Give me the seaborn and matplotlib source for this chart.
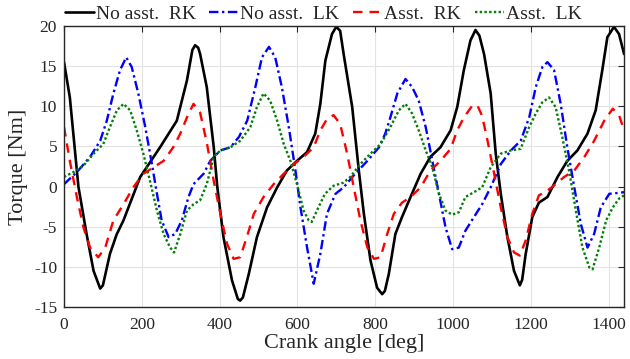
import numpy as np
import pandas as pd
import matplotlib
matplotlib.use('Agg')
import matplotlib.pyplot as plt
import seaborn as sns

# 크랭크 각도별 토크 데이터
rk_no_x = [0, 15, 37, 58, 76, 93, 100, 118, 135, 153, 196, 247, 290, 316, 330, 337, 345, 350, 367,
           385, 394, 410, 432, 447, 453, 460, 475, 496, 522, 548, 573, 599, 625, 646, 659, 672,
           689, 700, 710, 719, 741, 758, 771, 788, 805, 818, 825, 835, 852, 869, 891, 917, 942,
           968, 994, 1011, 1028, 1045, 1058, 1068, 1080, 1097, 1110, 1123, 1140, 1157, 1172,
           1178, 1187, 1204, 1221, 1243, 1269, 1294, 1320, 1346, 1367, 1384, 1397, 1414, 1427,
           1440]
rk_no_y = [15.5, 11.1, 0.0, -5.9, -10.5, -12.7, -12.3, -8.4, -6.0, -4.2, 1.2, 4.9, 8.2, 13.2,
           17.0, 17.6, 17.3, 16.5, 12.4, 4.9, 0.0, -6.3, -11.7, -14.0, -14.2, -13.8, -10.9, -6.3,
           -2.6, -0.1, 2.0, 3.2, 4.3, 6.6, 10.3, 15.7, 19.0, 19.9, 19.4, 16.5, 9.9, 2.0, -3.4,
           -9.2, -12.6, -13.4, -13.0, -10.9, -5.9, -3.8, -1.3, 1.6, 3.7, 4.9, 7.0, 9.9, 14.5,
           18.2, 19.5, 18.8, 16.5, 11.6, 4.1, -0.9, -6.3, -10.5, -12.3, -11.6, -8.4, -3.8, -2.0,
           -1.3, 1.2, 3.2, 4.5, 6.6, 9.5, 14.5, 18.6, 19.9, 19.0, 16.5]

lk_no_x = [0, 33, 67, 93, 110, 127, 144, 160, 174, 191, 209, 226, 239, 251, 269, 286, 303, 320,
           333, 359, 376, 402, 428, 450, 471, 492, 509, 527, 543, 560, 578, 595, 608, 625, 642,
           659, 676, 698, 719, 745, 780, 810, 826, 839, 857, 878, 895, 912, 930, 947, 964, 981,
           998, 1015, 1032, 1054, 1075, 1097, 1123, 1149, 1174, 1196, 1213, 1230, 1243, 1260,
           1277, 1294, 1312, 1329, 1346, 1363, 1380, 1402, 1423, 1440]
lk_no_y = [0.3, 1.8, 3.7, 5.7, 8.2, 11.6, 14.5, 16.1, 14.9, 11.6, 7.4, 2.8, -0.9, -4.2, -6.3,
           -5.9, -4.2, -1.3, 0.3, 1.6, 3.2, 4.5, 4.9, 6.2, 8.2, 12.4, 16.1, 17.4, 16.1, 12.4, 7.4,
           2.0, -2.6, -7.6, -12.1, -8.4, -3.4, -0.9, -0.1, 1.4, 3.2, 4.9, 6.6, 8.6, 11.6, 13.4,
           12.4, 10.7, 7.4, 3.2, -0.9, -5.1, -7.8, -7.6, -5.5, -3.8, -2.2, -0.1, 2.8, 4.5, 5.7,
           8.6, 12.4, 14.9, 15.5, 14.5, 10.3, 4.9, -0.1, -4.7, -7.6, -5.9, -2.6, -0.9, -0.8, -0.7]

rk_as_x = [0, 15, 33, 50, 67, 88, 106, 127, 153, 178, 204, 230, 256, 281, 299, 316, 333, 350,
           367, 385, 402, 419, 436, 453, 470, 488, 513, 539, 565, 591, 616, 642, 659, 676, 693,
           710, 728, 745, 762, 780, 797, 814, 831, 848, 869, 891, 917, 942, 968, 994, 1011, 1028,
           1050, 1063, 1075, 1089, 1106, 1123, 1140, 1157, 1172, 1187, 1204, 1221, 1243, 1264,
           1286, 1312, 1338, 1363, 1389, 1411, 1427, 1440]
rk_as_y = [7.4, 3.2, -1.3, -5.1, -7.6, -8.8, -7.6, -4.2, -2.2, -0.1, 1.6, 2.4, 3.2, 4.9, 6.6,
           8.6, 10.3, 9.2, 5.5, 0.7, -3.4, -7.1, -9.0, -8.8, -6.3, -3.4, -1.3, 0.3, 1.6, 2.8,
           3.7, 4.9, 7.0, 8.4, 8.9, 7.8, 4.1, -0.1, -4.2, -7.6, -9.0, -8.8, -5.9, -3.4, -2.0,
           -1.3, -0.1, 2.0, 3.2, 4.7, 7.0, 8.6, 10.1, 10.1, 8.8, 5.7, 1.6, -2.6, -6.3, -8.2,
           -8.6, -6.7, -3.4, -1.1, -0.5, 0.3, 1.2, 2.0, 3.7, 5.7, 8.2, 9.7, 8.9, 7.0]

lk_as_x = [0, 24, 50, 76, 101, 118, 136, 153, 170, 187, 204, 221, 239, 256, 273, 283, 299, 316,
           333, 350, 367, 385, 402, 428, 453, 479, 496, 513, 530, 548, 565, 582, 599, 616, 629,
           637, 654, 671, 693, 719, 736, 762, 788, 814, 839, 861, 878, 895, 912, 930, 947, 964,
           981, 998, 1015, 1032, 1054, 1075, 1097, 1123, 1149, 1174, 1196, 1213, 1230, 1247,
           1264, 1281, 1300, 1316, 1333, 1351, 1359, 1376, 1394, 1411, 1427, 1440]
lk_as_y = [1.2, 1.8, 2.6, 4.1, 5.3, 7.4, 9.5, 10.3, 9.5, 7.0, 4.1, 0.7, -3.0, -5.9, -7.6, -8.2,
           -5.9, -3.0, -2.2, -1.7, 0.3, 3.7, 4.5, 4.9, 5.7, 7.4, 9.9, 11.6, 10.7, 8.2, 5.3, 3.2,
           0.3, -3.0, -4.2, -4.4, -2.6, -0.9, 0.1, 0.5, 1.2, 2.8, 4.1, 5.3, 7.4, 9.5, 10.3, 9.1,
           7.0, 4.5, 2.4, -0.9, -3.0, -3.5, -3.2, -1.3, -0.7, -0.1, 2.4, 4.1, 4.5, 4.7, 7.4, 9.1,
           10.5, 11.1, 9.9, 6.2, 1.6, -3.0, -7.6, -10.1, -10.3, -7.6, -4.2, -2.6, -1.5, -1.1]

labels = ['No asst. RK', 'No asst. LK', 'Asst. RK', 'Asst. LK']
xticks = [0, 200, 400, 600, 800, 1000, 1200, 1400]
yticks = [-15, -10, -5, 0, 5, 10, 15, 20]

sns.set_theme(style='whitegrid')
plt.rcParams['font.family'] = ['Liberation Serif', 'DejaVu Serif']
plt.rcParams['axes.unicode_minus'] = False

fig = plt.figure(figsize=(6.3, 3.59), dpi=100)
ax = fig.add_axes([0.1016, 0.1448, 0.889, 0.7828])

series = [(rk_no_x, rk_no_y, 'black', '-', 1.9),
          (lk_no_x, lk_no_y, '#0000ff', (0, (4, 1.5, 1, 1.5)), 1.7),
          (rk_as_x, rk_as_y, '#ff0000', (0, (4, 3)), 1.7),
          (lk_as_x, lk_as_y, '#007f00', (0, (1, 1)), 1.7)]

for (xs, ys, c, ls, lw), lab in zip(series, labels):
    sns.lineplot(x=xs, y=ys, ax=ax, color=c, linestyle=ls, linewidth=lw,
                 label=lab, estimator=None, sort=False)

ax.set_xlim(0, 1440)
ax.set_ylim(-15, 20)
ax.set_xticks(xticks)
ax.set_yticks(yticks)
ax.grid(True, color='#e3e3e3', linewidth=0.8)
for s in ax.spines.values():
    s.set_color('#262626')
    s.set_linewidth(1.0)
ax.tick_params(direction='in', top=True, right=True, length=4, width=0.8,
               labelsize=12.5, colors='#262626', pad=5)
ax.tick_params(axis='x', pad=7)
ax.set_xlabel('Crank angle [deg]', fontsize=16, labelpad=1)
ax.set_ylabel('Torque [Nm]', fontsize=16, labelpad=4)

handles, labs = ax.get_legend_handles_labels()
ax.get_legend().remove()
fig.legend(handles, ['No asst.  RK', 'No asst.  LK', 'Asst.  RK', 'Asst.  LK'],
           loc='center', bbox_to_anchor=(323 / 630, 1 - 14 / 359), ncol=4,
           frameon=False, fontsize=14, handlelength=1.5, handletextpad=0.1,
           columnspacing=0.7, borderaxespad=0)

fig.savefig('out.png', dpi=100)
